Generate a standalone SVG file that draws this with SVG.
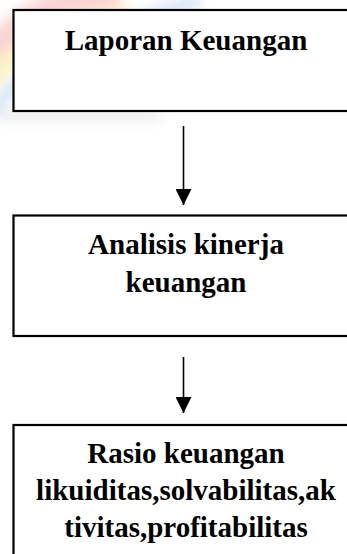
<svg xmlns="http://www.w3.org/2000/svg" width="347" height="554" viewBox="0 0 347 554">
  <style>
    .box { fill: #ffffff; stroke: #000000; stroke-width: 2.2; }
    .lbl { font-family: "Liberation Serif", "Times New Roman", serif; font-weight: bold; font-size: 29px; fill: #000000; text-anchor: middle; }
    .conn { stroke: #000000; stroke-width: 1.6; fill: none; }
  </style>
  <defs>
    <marker id="arrow" viewBox="0 0 16 16" refX="16" refY="8" markerWidth="16" markerHeight="16" markerUnits="userSpaceOnUse" orient="auto">
      <path d="M0,0 L16,8 L0,16 Z" fill="#000000"/>
    </marker>
    <filter id="blur" x="-50%" y="-50%" width="200%" height="200%">
      <feGaussianBlur stdDeviation="6"/>
    </filter>
  </defs>
  <rect width="347" height="554" fill="#ffffff"/>
  <g id="watermark" filter="url(#blur)" opacity="0.45">
    <path d="M-10,60 Q20,0 120,-5" stroke="#f4a0a0" stroke-width="26" fill="none"/>
    <path d="M-10,85 Q25,25 130,15" stroke="#f6e27a" stroke-width="18" fill="none"/>
    <path d="M-10,115 Q30,50 200,0" stroke="#a9c8ee" stroke-width="14" fill="none"/>
    <rect x="0" y="112" width="160" height="8" fill="#c8c8c8"/>
  </g>
  <g id="node-laporan">
    <rect class="box" x="13.5" y="10" width="345" height="101"/>
    <text class="lbl" x="186" y="50">Laporan Keuangan</text>
  </g>
  <g id="node-analisis">
    <rect class="box" x="13.5" y="215.5" width="345" height="120.5"/>
    <text class="lbl" x="186" y="254">Analisis kinerja</text>
    <text class="lbl" x="186" y="292">keuangan</text>
  </g>
  <g id="node-rasio">
    <rect class="box" x="13.5" y="425" width="345" height="140"/>
    <text class="lbl" x="186" y="463">Rasio keuangan</text>
    <text class="lbl" x="186" y="500">likuiditas,solvabilitas,ak</text>
    <text class="lbl" x="186" y="537">tivitas,profitabilitas</text>
  </g>
  <g id="connectors">
    <line class="conn" x1="183.5" y1="126" x2="183.5" y2="205" marker-end="url(#arrow)"/>
    <line class="conn" x1="183.5" y1="357" x2="183.5" y2="413" marker-end="url(#arrow)"/>
  </g>
</svg>
